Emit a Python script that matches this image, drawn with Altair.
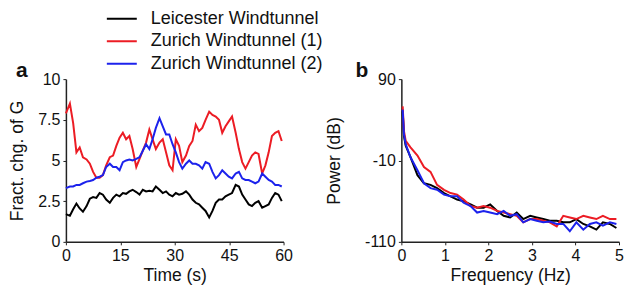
import altair as alt
import pandas as pd

SERIES = ["Leicester Windtunnel", "Zurich Windtunnel (1)", "Zurich Windtunnel (2)"]
COLORS = ["#000000", "#ec1c24", "#1c22ec"]
PANEL_LABELS = ["a", "b"]

TIME = [0, 1.1, 2.0, 2.9, 3.8, 4.7, 5.7, 6.6, 7.5, 8.4, 9.3, 10.2, 11.1, 12.1, 13.0,
        13.9, 14.8, 15.7, 16.6, 17.5, 18.4, 19.4, 20.3, 21.2, 22.1, 23.0, 23.9, 24.8,
        25.8, 26.7, 27.6, 28.5, 29.4, 30.3, 31.2, 32.1, 33.1, 34.0, 34.9, 35.8, 36.7,
        37.6, 38.5, 39.5, 40.4, 41.3, 42.2, 43.1, 44.0, 44.9, 45.8, 46.8, 47.7, 48.6,
        49.5, 50.4, 51.3, 52.2, 53.1, 54.1, 55.0, 55.9, 56.8, 57.7, 58.6, 59.5]

LEICESTER_G = [1.7, 1.6, 2.0, 2.35, 2.05, 1.85, 2.2, 2.65, 2.75, 2.7, 3.0, 2.9, 2.6, 2.4,
               2.7, 2.9, 2.8, 3.0, 2.95, 3.1, 3.2, 3.06, 2.9, 3.2, 3.1, 3.14, 3.1, 3.4,
               3.2, 3.0, 3.1, 2.9, 2.8, 3.0, 2.9, 2.95, 3.1, 2.9, 2.6, 2.4, 2.3, 2.1,
               1.9, 1.5, 1.9, 2.4, 2.6, 2.6, 2.8, 2.9, 3.0, 3.5, 3.4, 2.9, 2.6, 2.3,
               2.2, 2.4, 2.5, 2.1, 2.2, 2.3, 2.7, 3.0, 2.9, 2.5]

ZURICH1_G = [7.9, 8.5, 7.3, 5.5, 5.8, 5.2, 5.06, 4.8, 4.3, 3.94, 3.94, 4.1, 4.7, 5.2,
             5.3, 5.9, 6.4, 6.7, 6.3, 6.5, 5.7, 4.6, 5.1, 5.6, 6.1, 6.9, 6.3, 5.7,
             6.1, 6.3, 5.5, 4.7, 4.4, 6.3, 5.9, 4.9, 5.3, 5.9, 6.2, 7.2, 6.8, 7.0,
             7.5, 8.0, 7.8, 7.7, 7.5, 6.7, 7.1, 7.4, 7.7, 6.7, 5.7, 4.9, 4.5, 4.9,
             5.3, 5.5, 5.4, 4.2, 4.7, 5.5, 6.5, 6.7, 6.8, 6.2]

ZURICH2_G = [3.3, 3.4, 3.4, 3.5, 3.5, 3.6, 3.7, 3.74, 3.8, 3.94, 4.0, 4.1, 4.6, 4.8,
             4.6, 4.6, 4.4, 4.9, 5.0, 5.06, 5.0, 5.1, 5.2, 5.6, 6.0, 5.7, 6.3, 7.0,
             7.6, 7.1, 6.6, 6.6, 6.0, 5.5, 4.9, 4.5, 4.8, 5.0, 4.8, 4.8, 4.7, 4.5,
             4.9, 4.8, 4.3, 3.9, 4.1, 4.4, 4.2, 4.0, 3.9, 4.2, 4.3, 3.9, 3.8, 3.8,
             3.7, 3.6, 3.7, 4.2, 4.0, 3.8, 3.7, 3.5, 3.5, 3.4]

FREQ = [0.03, 0.06, 0.1, 0.21, 0.37, 0.52, 0.67, 0.82, 0.98, 1.13, 1.28, 1.43, 1.59,
        1.74, 1.89, 2.04, 2.2, 2.35, 2.5, 2.65, 2.8, 2.96, 3.11, 3.26, 3.41, 3.57,
        3.72, 3.87, 4.02, 4.18, 4.33, 4.48, 4.63, 4.79, 4.94]

LEICESTER_DB = [50.5, 20, 8, -6, -28, -38, -40, -44, -50, -54, -58, -60, -64, -68, -68,
                -64, -72, -78, -80, -74, -82, -78, -80, -82, -84, -84, -86, -86, -82,
                -88, -91, -95, -86, -88, -93]

ZURICH1_DB = [56.5, 26, 14, 6, -4, -18, -24, -40, -46, -50, -52, -58, -66, -68, -66,
              -68, -72, -74, -76, -78, -86, -82, -82, -84, -86, -91, -78, -80, -82,
              -78, -80, -82, -78, -82, -82]

ZURICH2_DB = [52.5, 22, 10, -6, -22, -38, -44, -46, -52, -54, -54, -62, -66, -74, -72,
              -74, -76, -72, -78, -76, -86, -82, -84, -86, -85, -88, -88, -97, -86,
              -95, -88, -86, -90, -86, -88]

FONT = "Liberation Sans"

rows_a = []
for i, (name, vals) in enumerate(zip(SERIES, [LEICESTER_G, ZURICH1_G, ZURICH2_G])):
    for t, v in zip(TIME, vals):
        rows_a.append({"series": name, "order": i, "t": t, "v": v})
df_a = pd.DataFrame(rows_a)

rows_b = []
for i, (name, vals) in enumerate(zip(SERIES, [LEICESTER_DB, ZURICH1_DB, ZURICH2_DB])):
    for f, v in zip(FREQ, vals):
        rows_b.append({"series": name, "order": i, "f": f, "v": v})
df_b = pd.DataFrame(rows_b)

axis_common = dict(
    grid=False, domainColor="#222222", domainWidth=1.5, tickColor="#222222",
    tickSize=3, tickWidth=1, labelFont=FONT, labelFontSize=16, labelColor="#111111",
    titleFont=FONT, titleFontSize=17.5, titleFontWeight="normal", titleColor="#111111",
    labelFlush=False, labelPadding=3, labelExpr="'' + datum.value",
)

W, H = 218, 163

color_a = alt.Color(
    "series:N",
    scale=alt.Scale(domain=SERIES, range=COLORS),
    legend=alt.Legend(
        title=None, orient="none", legendX=40, legendY=-71,
        symbolType="stroke", symbolSize=900, symbolStrokeWidth=2,
        labelFont=FONT, labelFontSize=18, labelColor="#111111",
        labelOffset=13, rowPadding=1.5, clipHeight=21, labelLimit=0,
    ),
)


def panel_label(letter, dx):
    return alt.Chart(pd.DataFrame({"label": [letter]})).mark_text(
        font=FONT, fontSize=21, fontWeight="bold", color="#111111",
        align="left", baseline="alphabetic",
    ).encode(text="label:N", x=alt.value(dx), y=alt.value(-2))


lines_a = alt.Chart(df_a).mark_line(strokeWidth=2).encode(
    x=alt.X("t:Q", scale=alt.Scale(domain=[0, 60], nice=False),
            axis=alt.Axis(values=[0, 15, 30, 45, 60], title="Time (s)", titleY=25,
                          **axis_common)),
    y=alt.Y("v:Q", scale=alt.Scale(domain=[0, 10], nice=False),
            axis=alt.Axis(values=[0, 2.5, 5, 7.5, 10], title="Fract. chg. of G",
                          titleX=-39, titleY=H / 2, **axis_common)),
    color=color_a,
    order="order:Q",
)

panel_a = alt.layer(lines_a, panel_label(PANEL_LABELS[0], -50)).properties(width=W, height=H)

lines_b = alt.Chart(df_b).mark_line(strokeWidth=2).encode(
    x=alt.X("f:Q", scale=alt.Scale(domain=[0, 5], nice=False),
            axis=alt.Axis(values=[0, 1, 2, 3, 4, 5], title="Frequency (Hz)", titleY=25,
                          **axis_common)),
    y=alt.Y("v:Q", scale=alt.Scale(domain=[-110, 90], nice=False),
            axis=alt.Axis(values=[-110, -10, 90], title="Power (dB)",
                          titleX=-58, titleY=H / 2, **axis_common)),
    color=alt.Color("series:N", scale=alt.Scale(domain=SERIES, range=COLORS), legend=None),
    order="order:Q",
)

panel_b = alt.layer(lines_b, panel_label(PANEL_LABELS[1], -46)).properties(width=W, height=H)

chart = alt.hconcat(panel_a, panel_b, spacing=118, bounds="flush").resolve_scale(
    color="independent"
).configure_view(stroke=None).properties(
    padding={"left": 0, "top": 0, "right": 0, "bottom": 1}
)

chart.save("out.html", embed_options={"renderer": "svg", "actions": False})
